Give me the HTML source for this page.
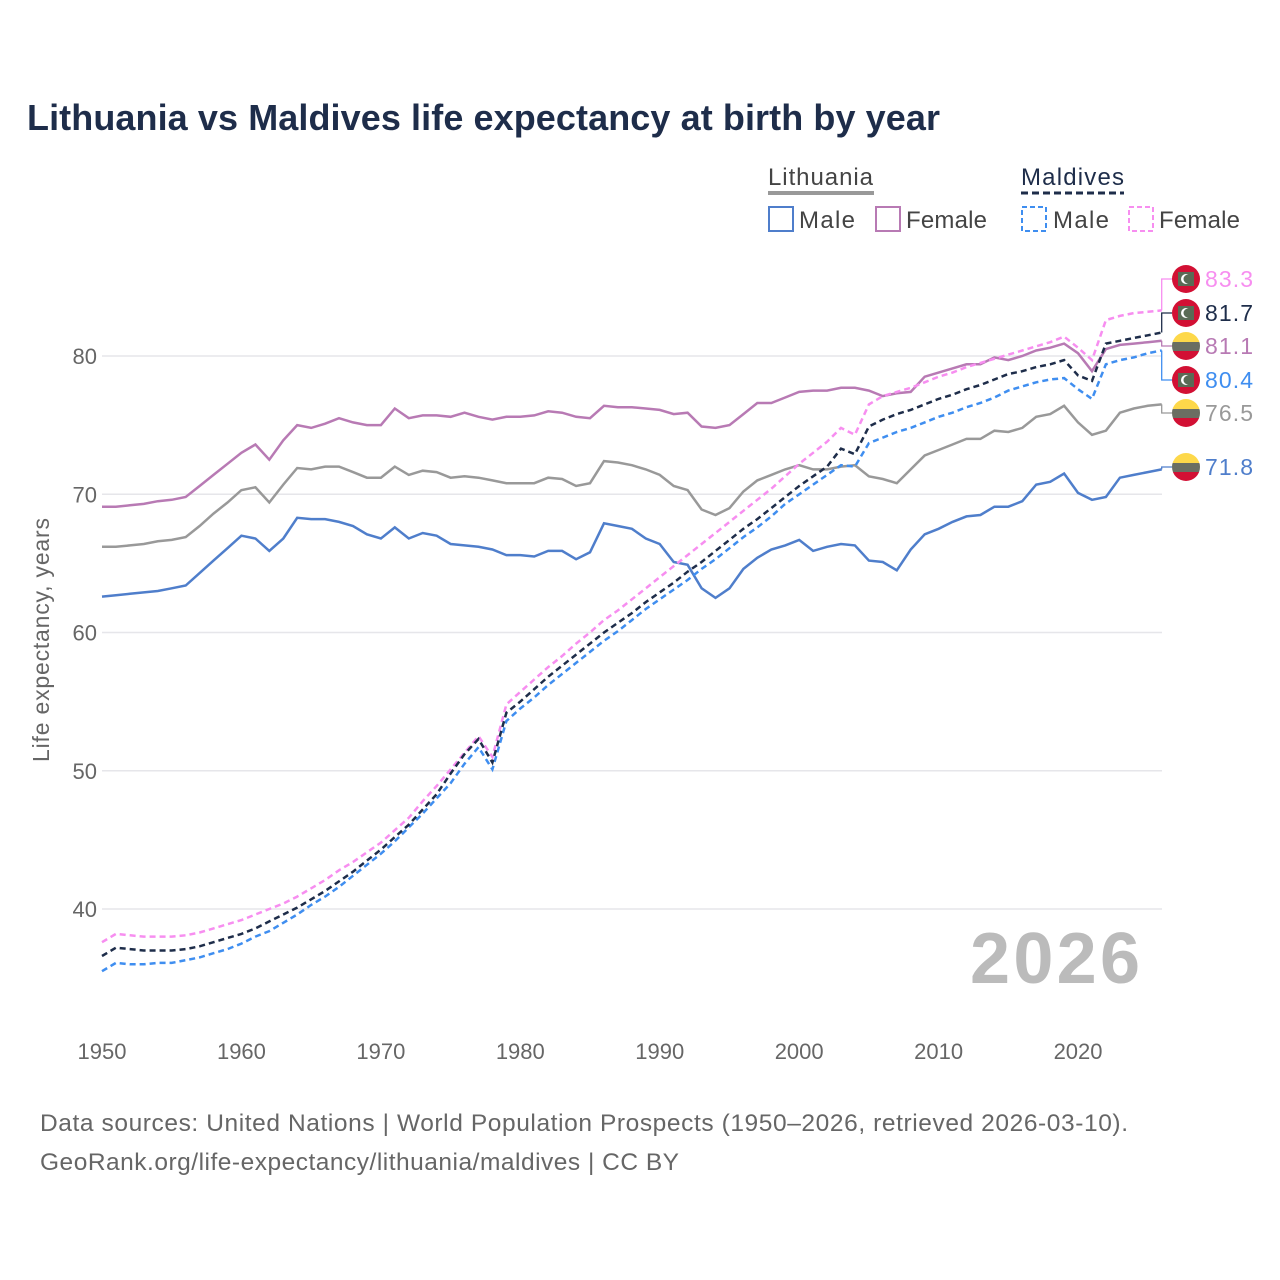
<!DOCTYPE html>
<html><head><meta charset="utf-8">
<style>
body{margin:0;background:#fff;font-family:"Liberation Sans",sans-serif;}
#wrap{position:relative;width:1280px;height:1280px;overflow:hidden;}
</style></head>
<body>
<div id="wrap">
<svg id="chart" width="1280" height="1280" xmlns="http://www.w3.org/2000/svg">
<text x="27" y="130" font-size="36" font-weight="bold" fill="#1e2d4a" textLength="913">Lithuania vs Maldives life expectancy at birth by year</text>
<g>
<text x="768" y="185" font-size="24" fill="#444" textLength="105">Lithuania</text>
<line x1="768" y1="193" x2="874" y2="193" stroke="#999" stroke-width="4"/>
<text x="1021" y="185" font-size="24" fill="#1e2d4a" textLength="103">Maldives</text>
<line x1="1021" y1="193" x2="1124" y2="193" stroke="#1e2d4a" stroke-width="3" stroke-dasharray="7,4"/>
<rect x="769" y="207" width="24" height="24" fill="none" stroke="#4f7ecb" stroke-width="2"/>
<text x="799" y="228" font-size="24" fill="#444" textLength="56">Male</text>
<rect x="876" y="207" width="24" height="24" fill="none" stroke="#b87ab4" stroke-width="2"/>
<text x="906" y="228" font-size="24" fill="#444" textLength="81">Female</text>
<rect x="1022" y="207" width="24" height="24" fill="none" stroke="#3f8ef0" stroke-width="2" stroke-dasharray="5,3"/>
<text x="1053" y="228" font-size="24" fill="#444" textLength="56">Male</text>
<rect x="1129" y="207" width="24" height="24" fill="none" stroke="#f78ef0" stroke-width="2" stroke-dasharray="5,3"/>
<text x="1159" y="228" font-size="24" fill="#444" textLength="81">Female</text>
</g>
<g id="grid"></g>
<g id="series"></g>
<g id="labels"></g>
<text x="49" y="640" font-size="23" fill="#666" text-anchor="middle" textLength="244" transform="rotate(-90 49 640)">Life expectancy, years</text>
<text x="1140" y="983" font-size="72" font-weight="bold" fill="#bbb" text-anchor="end" textLength="170">2026</text>
<text x="40" y="1131" font-size="24.5" fill="#666" textLength="1088">Data sources: United Nations | World Population Prospects (1950–2026, retrieved 2026-03-10).</text>
<text x="40" y="1170" font-size="24.5" fill="#666" textLength="639">GeoRank.org/life-expectancy/lithuania/maldives | CC BY</text>
</svg>
</div>
<script>
const years=[];for(let y=1950;y<=2026;y++)years.push(y);
const yTicks=[40,50,60,70,80];
const xTicks=[1950,1960,1970,1980,1990,2000,2010,2020];
const ltMale=[62.6,62.7,62.8,62.9,63.0,63.2,63.4,64.3,65.2,66.1,67.0,66.8,65.9,66.8,68.3,68.2,68.2,68.0,67.7,67.1,66.8,67.6,66.8,67.2,67.0,66.4,66.3,66.2,66.0,65.6,65.6,65.5,65.9,65.9,65.3,65.8,67.9,67.7,67.5,66.8,66.4,65.1,64.9,63.2,62.5,63.2,64.6,65.4,66.0,66.3,66.7,65.9,66.2,66.4,66.3,65.2,65.1,64.5,66.0,67.1,67.5,68.0,68.4,68.5,69.1,69.1,69.5,70.7,70.9,71.5,70.1,69.6,69.8,71.2,71.4,71.6,71.8];
const ltFemale=[69.1,69.1,69.2,69.3,69.5,69.6,69.8,70.6,71.4,72.2,73.0,73.6,72.5,73.9,75.0,74.8,75.1,75.5,75.2,75.0,75.0,76.2,75.5,75.7,75.7,75.6,75.9,75.6,75.4,75.6,75.6,75.7,76.0,75.9,75.6,75.5,76.4,76.3,76.3,76.2,76.1,75.8,75.9,74.9,74.8,75.0,75.8,76.6,76.6,77.0,77.4,77.5,77.5,77.7,77.7,77.5,77.1,77.3,77.4,78.5,78.8,79.1,79.4,79.4,79.9,79.7,80.0,80.4,80.6,80.9,80.2,78.9,80.5,80.8,80.9,81.0,81.1];
const ltTotal=[66.2,66.2,66.3,66.4,66.6,66.7,66.9,67.7,68.6,69.4,70.3,70.5,69.4,70.7,71.9,71.8,72.0,72.0,71.6,71.2,71.2,72.0,71.4,71.7,71.6,71.2,71.3,71.2,71.0,70.8,70.8,70.8,71.2,71.1,70.6,70.8,72.4,72.3,72.1,71.8,71.4,70.6,70.3,68.9,68.5,69.0,70.2,71.0,71.4,71.8,72.1,71.8,71.8,72.0,72.1,71.3,71.1,70.8,71.8,72.8,73.2,73.6,74.0,74.0,74.6,74.5,74.8,75.6,75.8,76.4,75.2,74.3,74.6,75.9,76.2,76.4,76.5];
const mvTotal=[36.6,37.2,37.1,37.0,37.0,37.0,37.1,37.3,37.6,37.9,38.2,38.6,39.1,39.6,40.1,40.7,41.3,42.0,42.7,43.5,44.3,45.2,46.1,47.2,48.3,49.8,51.2,52.3,50.6,54.2,55.0,55.9,56.8,57.6,58.4,59.2,60.0,60.7,61.4,62.2,62.9,63.6,64.4,65.1,65.9,66.7,67.5,68.2,69.0,69.8,70.6,71.3,72.0,73.3,72.9,74.9,75.4,75.8,76.1,76.5,76.9,77.2,77.6,77.9,78.3,78.7,78.9,79.2,79.4,79.7,78.6,78.2,80.9,81.1,81.3,81.5,81.7];
const mvMale=[35.5,36.1,36.0,36.0,36.1,36.1,36.3,36.5,36.8,37.1,37.5,38.0,38.4,39.0,39.6,40.3,40.9,41.6,42.4,43.2,44.0,44.9,45.9,46.9,48.0,49.1,50.5,51.7,50.1,53.6,54.5,55.3,56.2,57.0,57.8,58.6,59.4,60.1,60.9,61.7,62.4,63.1,63.8,64.6,65.3,66.1,66.9,67.6,68.4,69.3,70.0,70.7,71.4,72.1,72.0,73.7,74.1,74.5,74.8,75.2,75.6,75.9,76.3,76.6,77.0,77.5,77.8,78.1,78.3,78.4,77.6,76.9,79.4,79.7,79.9,80.2,80.4];
const mvFemale=[37.6,38.2,38.1,38.0,38.0,38.0,38.1,38.3,38.6,38.9,39.2,39.6,40.0,40.4,40.9,41.5,42.1,42.8,43.4,44.1,44.8,45.7,46.6,47.8,48.9,50.1,51.3,52.5,51.0,54.8,55.7,56.6,57.5,58.3,59.2,60.0,60.9,61.6,62.4,63.2,64.0,64.8,65.6,66.4,67.2,68.0,68.8,69.6,70.4,71.3,72.2,73.0,73.8,74.8,74.3,76.5,77.1,77.4,77.7,78.1,78.5,78.8,79.2,79.5,79.8,80.1,80.4,80.7,81.0,81.4,80.6,79.7,82.6,82.9,83.1,83.2,83.3];

const NS="http://www.w3.org/2000/svg";
const x=y=>102+(y-1950)*(1161.7-102)/76;
const yv=v=>356+(80-v)*13.825;
const grid=document.getElementById('grid');
yTicks.forEach(t=>{
  const l=document.createElementNS(NS,'line');
  l.setAttribute('x1',102);l.setAttribute('x2',1162);l.setAttribute('y1',yv(t));l.setAttribute('y2',yv(t));
  l.setAttribute('stroke','#e6e6ea');l.setAttribute('stroke-width','1.5');
  
  
  grid.appendChild(l);
  const tx=document.createElementNS(NS,'text');
  tx.setAttribute('x',97);tx.setAttribute('y',yv(t)+8);tx.setAttribute('text-anchor','end');
  tx.setAttribute('font-size','22');tx.setAttribute('fill','#666');tx.textContent=t;
  
  
  grid.appendChild(tx);
});
xTicks.forEach(t=>{
  const tx=document.createElementNS(NS,'text');
  tx.setAttribute('x',x(t));tx.setAttribute('y',1059);tx.setAttribute('text-anchor','middle');
  tx.setAttribute('font-size','22');tx.setAttribute('fill','#666');tx.textContent=t;
  
  
  grid.appendChild(tx);
});
const series=[
 {d:ltMale,c:'#4f7ecb',dash:null,n:'lithuania-male-line'},
 {d:ltTotal,c:'#999',dash:null,n:'lithuania-total-line'},
 {d:ltFemale,c:'#b87ab4',dash:null,n:'lithuania-female-line'},
 {d:mvMale,c:'#3f8ef0',dash:'6,4',n:'maldives-male-line'},
 {d:mvFemale,c:'#f78ef0',dash:'6,4',n:'maldives-female-line'},
 {d:mvTotal,c:'#1e2d4a',dash:'6,4',n:'maldives-total-line'}
];
const sg=document.getElementById('series');
series.forEach(s=>{
  const p=document.createElementNS(NS,'path');
  p.setAttribute('d',s.d.map((v,i)=>(i?'L':'M')+x(years[i]).toFixed(1)+','+yv(v).toFixed(1)).join(''));
  p.setAttribute('fill','none');p.setAttribute('stroke',s.c);p.setAttribute('stroke-width','2.5');
  if(s.dash)p.setAttribute('stroke-dasharray',s.dash);
  
  
  sg.appendChild(p);
});
const labs=[
 {d:mvFemale,c:'#f78ef0',ly:279,f:'mv',n:'label-maldives-female'},
 {d:mvTotal,c:'#1e2d4a',ly:313,f:'mv',n:'label-maldives-total'},
 {d:ltFemale,c:'#b87ab4',ly:346,f:'lt',n:'label-lithuania-female'},
 {d:mvMale,c:'#3f8ef0',ly:380,f:'mv',n:'label-maldives-male'},
 {d:ltTotal,c:'#999',ly:413,f:'lt',n:'label-lithuania-total'},
 {d:ltMale,c:'#4f7ecb',ly:467,f:'lt',n:'label-lithuania-male'}
];
const lg=document.getElementById('labels');
labs.forEach(L=>{
  const v=L.d[L.d.length-1];const ex=x(2026),ey=yv(v);
  const g=document.createElementNS(NS,'g');
  
  
  const pl=document.createElementNS(NS,'polyline');
  pl.setAttribute('points',`${ex},${ey} ${ex},${L.ly} 1172,${L.ly}`);
  pl.setAttribute('fill','none');pl.setAttribute('stroke',L.c);pl.setAttribute('stroke-width','1.3');
  g.appendChild(pl);
  const cx=1186,cy=L.ly,r=14;
  let html='';
  if(L.f==='mv'){
    html=`<circle cx="${cx}" cy="${cy}" r="${r}" fill="#d21034"/><rect x="${cx-8}" y="${cy-7}" width="16" height="14" fill="#5a6b55"/><circle cx="${cx}" cy="${cy}" r="5" fill="#fff"/><circle cx="${cx+2}" cy="${cy}" r="4.5" fill="#5a6b55"/>`;
  } else {
    html=`<clipPath id="c${cy}"><circle cx="${cx}" cy="${cy}" r="${r}"/></clipPath><g clip-path="url(#c${cy})"><rect x="${cx-r}" y="${cy-r}" width="28" height="10" fill="#fdd84a"/><rect x="${cx-r}" y="${cy-4}" width="28" height="9" fill="#6a6e62"/><rect x="${cx-r}" y="${cy+5}" width="28" height="10" fill="#d21034"/></g>`;
  }
  const fg=document.createElementNS(NS,'g');fg.innerHTML=html;
  
  
  g.appendChild(fg);
  const t=document.createElementNS(NS,'text');
  t.setAttribute('x',1205);t.setAttribute('y',L.ly+8);t.setAttribute('font-size','23');t.setAttribute('fill',L.c);
  t.setAttribute('textLength','48');
  t.textContent=v.toFixed(1);
  
  
  g.appendChild(t);
  lg.appendChild(g);
});
</script>
</body></html>
